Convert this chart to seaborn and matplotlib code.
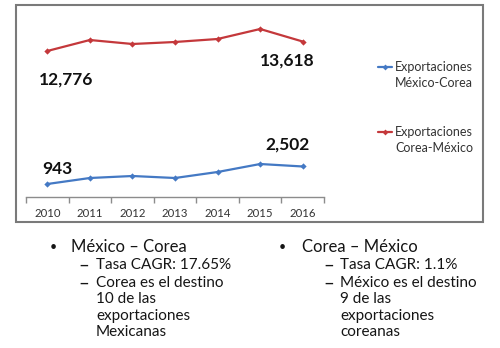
import matplotlib
matplotlib.use("Agg")
import matplotlib.pyplot as plt
from matplotlib.lines import Line2D
from matplotlib.patches import Rectangle
import pandas as pd
import seaborn as sns

years = ["2010", "2011", "2012", "2013", "2014", "2015", "2016"]
mex_kor = [943, 1477, 1655, 1477, 2011, 2722, 2502]
kor_mex = [12776, 13754, 13399, 13577, 13843, 14733, 13618]
series_names = ["Exportaciones\nMéxico-Corea", "Exportaciones\nCorea-México"]
series_colors = ["#4479C4", "#C4383B"]

left_notes = ["México – Corea", "Tasa CAGR: 17.65%",
              ["Corea es el destino", "10 de las", "exportaciones", "Mexicanas"]]
right_notes = ["Corea – México", "Tasa CAGR: 1.1%",
               ["México es el destino", "9 de las", "exportaciones", "coreanas"]]

sns.set_theme(style="white")
plt.rcParams["font.family"] = ["Lato", "DejaVu Sans"]

W, H = 500, 348
fig = plt.figure(figsize=(W / 100, H / 100), dpi=100)


def fx(px):
    return px / W


def fy(py):
    return 1 - py / H


ax = fig.add_axes([fx(26), fy(197), fx(324) - fx(26), fy(10) - fy(197)])

df = pd.DataFrame({
    "year": list(range(len(years))) * 2,
    "value": mex_kor + kor_mex,
    "series": [series_names[0]] * len(years) + [series_names[1]] * len(years),
})
sns.lineplot(data=df, x="year", y="value", hue="series", palette=series_colors,
             marker="D", markersize=3.2, markeredgewidth=0, linewidth=1.6,
             legend=False, ax=ax)

ax.set_xlim(-0.5, len(years) - 0.5)
ax.set_ylim(-213, 16423)
ax.set_xlabel("")
ax.set_ylabel("")
ax.set_yticks([])
for side in ["top", "right", "left"]:
    ax.spines[side].set_visible(False)
ax.spines["bottom"].set_color("#8c8c8c")
ax.spines["bottom"].set_linewidth(1.0)
ax.set_xticks([i - 0.5 for i in range(len(years) + 1)])
ax.set_xticklabels([])
ax.tick_params(axis="x", which="major", direction="out", length=4,
               color="#8c8c8c", width=1.0, bottom=True)
ax.set_xticks(range(len(years)), minor=True)
ax.set_xticklabels(years, minor=True)
ax.tick_params(axis="x", which="minor", length=0, pad=8, labelsize=8.2,
               labelcolor="#333333")
ax.patch.set_alpha(0)

# end-point value labels
label_specs = [
    (0, kor_mex[0], 19, -29),
    (6, kor_mex[6], -15, -19),
    (0, mex_kor[0], 10, 15),
    (6, mex_kor[6], -15, 22),
]
for xi, val, dx, dy in label_specs:
    ax.annotate(f"{val:,}", (xi, val), xytext=(dx * 0.72, dy * 0.72),
                textcoords="offset points", ha="center", va="center",
                fontsize=12.5, fontweight="bold", color="#111111")

# legend at the right of the plot
for (name, color, ytop) in zip(series_names, series_colors, [67, 132]):
    fig.add_artist(Line2D([fx(378), fx(392)], [fy(ytop), fy(ytop)],
                          color=color, linewidth=1.6))
    fig.add_artist(Line2D([fx(385)], [fy(ytop)], color=color, marker="D",
                          markersize=3, markeredgewidth=0))
    first, second = name.split("\n")
    fig.text(fx(395), fy(ytop), first, fontsize=9, color="#333333",
             va="center", ha="left")
    fig.text(fx(395), fy(ytop + 16), second, fontsize=9, color="#333333",
             va="center", ha="left")

# chart frame
fig.add_artist(Rectangle((fx(16), fy(222)), fx(483) - fx(16), fy(5) - fy(222),
                         fill=False, edgecolor="#7a7a7a", linewidth=1.5))


def draw_notes(notes, xb, xh, xd, xs):
    ink = "#151515"
    fig.text(fx(xb), fy(247), "•", fontsize=9, va="center", ha="left", color=ink)
    fig.text(fx(xh), fy(247), notes[0], fontsize=12, va="center", ha="left", color=ink)
    fig.text(fx(xd), fy(265), "–", fontsize=13.5, va="center", ha="left", color=ink)
    fig.text(fx(xs), fy(265), notes[1], fontsize=11, va="center", ha="left", color=ink)
    fig.text(fx(xd), fy(283), "–", fontsize=13.5, va="center", ha="left", color=ink)
    for i, line in enumerate(notes[2]):
        fig.text(fx(xs), fy(283 + 16.4 * i), line, fontsize=11, va="center",
                 ha="left", color=ink)


draw_notes(left_notes, 50, 71, 78, 96)
draw_notes(right_notes, 279, 302, 323, 340)

fig.savefig("out.png", dpi=100)
